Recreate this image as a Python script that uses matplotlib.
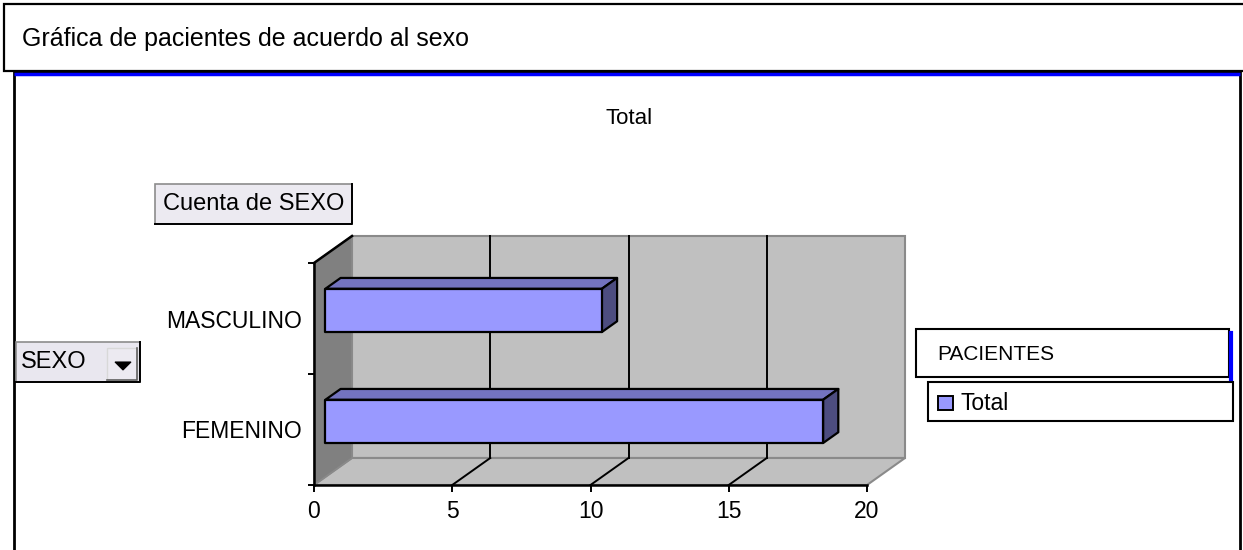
import matplotlib
matplotlib.use("Agg")
import matplotlib.pyplot as plt
from matplotlib.patches import Rectangle, Polygon

plt.rcParams['font.family'] = ['Liberation Sans', 'DejaVu Sans']

# Data
categories = ["FEMENINO", "MASCULINO"]
counts = [18, 10]
x_ticks = [0, 5, 10, 15, 20]
series_name = "Total"
legend_title = "PACIENTES"
field_button = "Cuenta de SEXO"
row_button = "SEXO"
title = "Gráfica de pacientes de acuerdo al sexo"

W, H = 1243, 550
fig = plt.figure(figsize=(W / 100, H / 100), dpi=100)

# Overlay in pixel coordinates for frames, buttons and legend
ov = fig.add_axes([0, 0, 1, 1])
ov.set_xlim(0, W)
ov.set_ylim(H, 0)
ov.axis("off")

# Title box
ov.add_patch(Rectangle((4, 4), W + 10, 67, facecolor="white", edgecolor="black", lw=1.6))
ov.text(22, 39, title, fontsize=18, va="center", ha="left")

# Chart area frame with blue top rule
ov.add_patch(Rectangle((14, 72), 1226, 500, facecolor="white", edgecolor="black", lw=2))
ov.plot([14, 1240], [73.5, 73.5], color="#0000FF", lw=2.5, solid_capstyle="butt")

ov.text(629, 118, series_name, fontsize=16, ha="center", va="center")

# "Cuenta de SEXO" field button
ov.add_patch(Rectangle((155, 184), 197, 40, facecolor="#ECEAF1", edgecolor="#8c8c8c", lw=1.2))
ov.plot([155, 352, 352], [224, 224, 184], color="black", lw=1.4)
ov.text(253.5, 203.5, field_button, fontsize=17, ha="center", va="center")

# "SEXO" row field button with dropdown
ov.add_patch(Rectangle((16, 342), 124, 40, facecolor="#E9E7EF", edgecolor="#8c8c8c", lw=1.2))
ov.plot([16, 140, 140], [382, 382, 342], color="black", lw=1.4)
ov.text(21, 362.5, row_button, fontsize=17, ha="left", va="center")
ov.add_patch(Rectangle((107, 348), 30, 32, facecolor="#ECEAF1", edgecolor="#d8d8d8", lw=1))
ov.plot([107, 137, 137], [380, 380, 348], color="#606060", lw=1.2)
ov.add_patch(Polygon([[115, 362], [131, 362], [123, 370]], closed=True,
                     facecolor="black", edgecolor="black", lw=0.8))

# Legend title box and legend box
ov.plot([1231, 1231], [333, 379], color="#0000FF", lw=3)
ov.add_patch(Rectangle((916, 329), 313, 48, facecolor="white", edgecolor="black", lw=1.5))
ov.text(937, 354, legend_title, fontsize=15, ha="left", va="center")
ov.add_patch(Rectangle((928, 382), 305, 39, facecolor="white", edgecolor="black", lw=1.5))
ov.add_patch(Rectangle((938, 396), 15, 14, facecolor="#9999FF", edgecolor="black", lw=1.4))
ov.text(961, 404, series_name, fontsize=16.5, ha="left", va="center")

# 3D bar chart drawn in value/category coordinates
px_per_val = 27.65
px_per_cat = 111.0
x_max = 21.45
y_lo, y_hi = -0.5, 1.75
left_px, bottom_px = 314, 485
ax = fig.add_axes([left_px / W, (H - bottom_px) / H,
                   x_max * px_per_val / W, (y_hi - y_lo) * px_per_cat / H])
ax.set_xlim(0, x_max)
ax.set_ylim(y_lo, y_hi)
ax.patch.set_alpha(0)
for s in ax.spines.values():
    s.set_visible(False)

DX = 38 / px_per_val      # full depth offset, value units
DY = 27 / px_per_cat      # full depth offset, category units
vmax = x_ticks[-1]
c_lo, c_hi = -0.5, len(categories) - 0.5
wall = "#C0C0C0"
side = "#808080"
edge_gray = "#8a8a8a"

# Back wall
ax.add_patch(Polygon([[DX, c_lo + DY], [vmax + DX, c_lo + DY],
                      [vmax + DX, c_hi + DY], [DX, c_hi + DY]],
                     closed=True, facecolor=wall, edgecolor=edge_gray, lw=1.5,
                     clip_on=False, zorder=1))
# Floor
ax.add_patch(Polygon([[0, c_lo], [vmax, c_lo], [vmax + DX, c_lo + DY], [DX, c_lo + DY]],
                     closed=True, facecolor=wall, edgecolor=edge_gray, lw=1.5,
                     clip_on=False, zorder=1))
# Side wall
ax.add_patch(Polygon([[0, c_lo], [DX, c_lo + DY], [DX, c_hi + DY], [0, c_hi]],
                     closed=True, facecolor=side, edgecolor=edge_gray, lw=1.2,
                     clip_on=False, zorder=1))
# Gridlines on the back wall and floor
for v in x_ticks[1:-1]:
    ax.plot([v + DX, v + DX], [c_lo + DY, c_hi + DY], color="black", lw=1.4,
            clip_on=False, zorder=2)
    ax.plot([v, v + DX], [c_lo, c_lo + DY], color="black", lw=1.4,
            clip_on=False, zorder=2)

# Front edges of the plot box
ax.plot([0, vmax], [c_lo, c_lo], color="black", lw=1.8, clip_on=False, zorder=3)
ax.plot([0, 0], [c_lo, c_hi], color="black", lw=1.8, clip_on=False, zorder=3)
ax.plot([0, DX], [c_hi, c_hi + DY], color="black", lw=1.8, clip_on=False, zorder=3)

# Bars
half = 0.195
d0, d1 = 0.3, 0.7
ox0, oy0 = d0 * DX, d0 * DY
ox1, oy1 = d1 * DX, d1 * DY
for i, v in enumerate(counts):
    y = i
    top = [[ox0, y + half + oy0], [v + ox0, y + half + oy0],
           [v + ox1, y + half + oy1], [ox1, y + half + oy1]]
    rside = [[v + ox0, y - half + oy0], [v + ox1, y - half + oy1],
             [v + ox1, y + half + oy1], [v + ox0, y + half + oy0]]
    front = [[ox0, y - half + oy0], [v + ox0, y - half + oy0],
             [v + ox0, y + half + oy0], [ox0, y + half + oy0]]
    for pts, col in ((top, "#7373C0"), (rside, "#4D4D80"), (front, "#9999FF")):
        ax.add_patch(Polygon(pts, closed=True, facecolor=col, edgecolor="black",
                             lw=1.6, joinstyle="round", clip_on=False, zorder=4))

# Axis ticks and labels
ax.set_xticks(x_ticks)
ax.set_xticklabels([str(t) for t in x_ticks])
ax.tick_params(axis="x", direction="out", length=5, width=1.4, pad=6,
               labelsize=16.5, color="black")
ax.set_yticks(range(len(categories)))
ax.set_yticklabels(categories)
ax.set_yticks([c_lo + k for k in range(len(categories) + 1)], minor=True)
ax.tick_params(axis="y", which="major", length=0, pad=9, labelsize=16.5)
ax.tick_params(axis="y", which="minor", direction="out", length=4.5, width=1.4,
               color="black")

fig.savefig("out.png", dpi=100)
